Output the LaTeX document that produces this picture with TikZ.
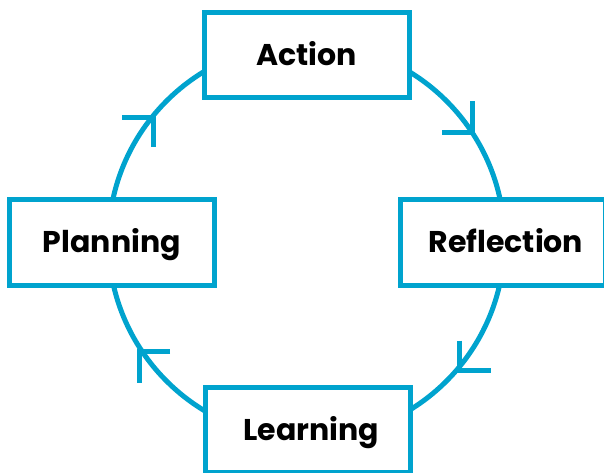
\documentclass[tikz,border=0pt]{standalone}
\usepackage{fontspec}
\setmainfont{Poppins}
\usetikzlibrary{calc}
\definecolor{cyc}{RGB}{0,163,206}
\begin{document}
\begin{tikzpicture}[x=1pt,y=-1pt,
  lbox/.style={draw=cyc,line width=5pt,fill=white,minimum width=205pt,minimum height=85.5pt,inner sep=0pt,text height=21pt,text depth=0pt,font=\fontsize{30}{36}\selectfont\bfseries},
  ring/.style={draw=cyc,line width=5pt},
  chev/.style={draw=cyc,line width=5pt,line cap=butt,line join=miter}]
\useasboundingbox (0,0) rectangle (604,472);
\coordinate (c) at (306.5,241);
\draw[ring] (c) circle[radius=198];
\node[lbox] (action) at (306.5,55) {Action};
\node[lbox] (planning) at (111.75,242.25) {Planning};
\node[lbox,text width=195pt,align=left] (reflection) at (503,242.25) {\hspace*{23pt}Reflection};
\node[lbox,minimum height=85pt] (learning) at (307.5,430) {\hspace*{8pt}Learning};
% chevrons
\coordinate (ul) at (153,117);
\coordinate (ur) at (472.5,132);
\coordinate (lr) at (459.5,370.5);
\coordinate (ll) at (139,351.5);
\draw[chev] ($(ul)+(-31,0)$) -- (ul) -- ($(ul)+(0,30)$);
\draw[chev] ($(ur)+(0,-31)$) -- (ur) -- ($(ur)+(-31,0)$);
\draw[chev] ($(lr)+(0,-30)$) -- (lr) -- ($(lr)+(31,0)$);
\draw[chev] ($(ll)+(31,0)$) -- (ll) -- ($(ll)+(0,31)$);
\end{tikzpicture}
\end{document}
